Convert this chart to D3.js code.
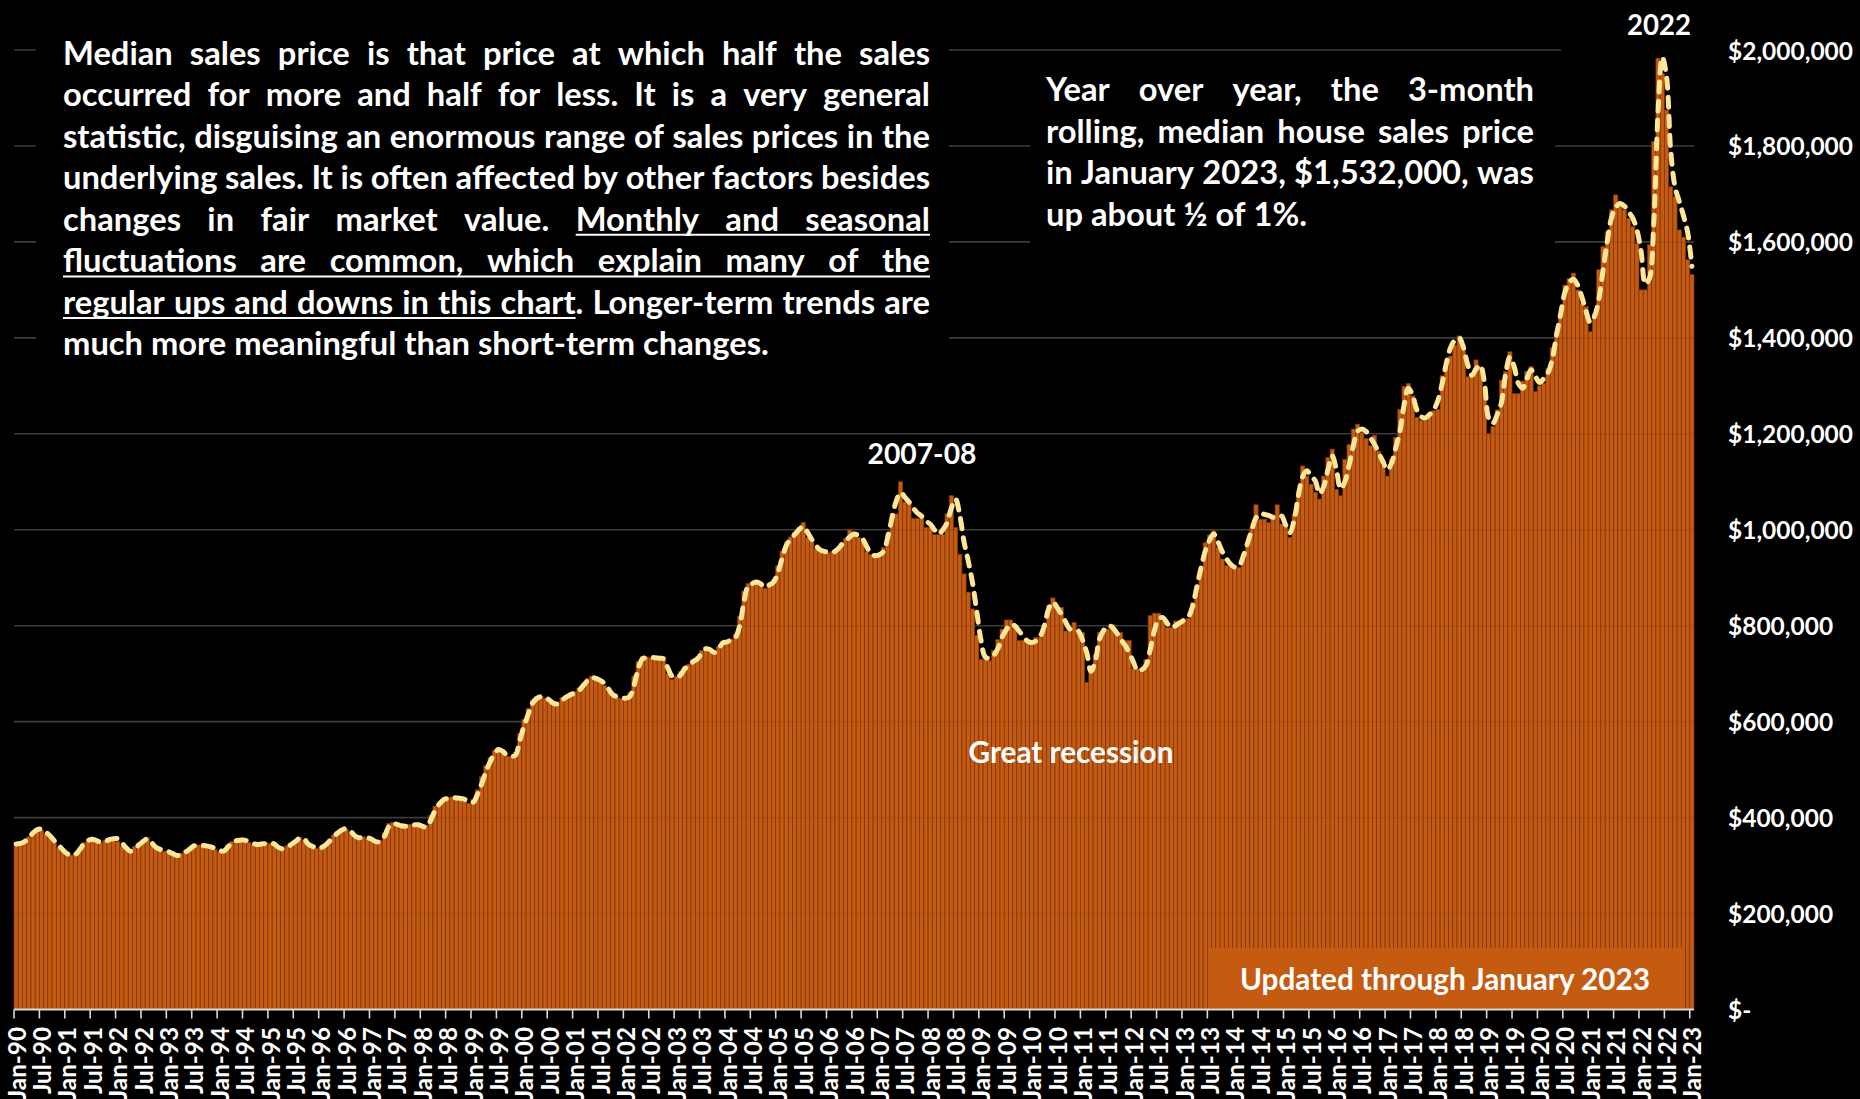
<!DOCTYPE html>
<html><head><meta charset="utf-8">
<script src="https://cdn.jsdelivr.net/npm/d3@7"></script>
<style>
html,body{margin:0;padding:0;background:#000;overflow:hidden;}
svg{display:block;}
text{font-family:Lato,"Open Sans",sans-serif;font-weight:700;fill:#fff;}
</style></head><body>
<svg id="chart" width="1860" height="1099"></svg>
<script>
// ---------------- DATA ----------------
const monthNames = ["Jan","Feb","Mar","Apr","May","Jun","Jul","Aug","Sep","Oct","Nov","Dec"];
const firstYear = 1990;
// monthly median sales price, thousands of dollars (bars), Jan-90 .. Jan-23
const barValues = [
/*1990*/ 348,345,351,360,372,377,374,366,358,348,338,328,
/*1991*/ 322,322,326,337,348,355,354,350,348,352,356,352,
/*1992*/ 350,340,333,332,340,347,354,358,342,335,333,330,
/*1993*/ 327,322,320,326,332,338,343,343,341,340,337,333,
/*1994*/ 329,333,343,350,353,354,352,348,344,343,346,348,
/*1995*/ 346,342,335,336,341,347,353,359,352,342,338,336,
/*1996*/ 339,345,354,364,371,378,375,367,358,357,360,356,
/*1997*/ 352,348,352,368,388,390,385,382,382,386,386,383,
/*1998*/ 380,384,405,424,432,440,442,443,440,439,435,430,
/*1999*/ 438,458,485,508,525,540,545,535,528,527,536,575,
/*2000*/ 605,628,645,652,653,649,640,635,640,650,655,660,
/*2001*/ 663,670,680,690,695,688,682,675,662,652,650,648,
/*2002*/ 650,660,695,725,736,735,733,734,731,728,700,688,
/*2003*/ 694,705,715,720,730,735,748,755,745,740,757,768,
/*2004*/ 768,772,782,820,872,888,890,888,884,878,888,896,
/*2005*/ 925,955,975,985,995,1005,1015,984,975,960,955,954,
/*2006*/ 952,955,962,972,982,1000,991,984,975,955,948,946,
/*2007*/ 948,963,991,1033,1033,1100,1058,1058,1024,1024,1024,1005,
/*2008*/ 1005,990,990,990,1033,1071,1005,949,908,870,835,780,
/*2009*/ 730,730,727,748,771,793,812,812,803,769,769,769,
/*2010*/ 769,776,776,800,842,858,838,838,789,789,807,786,
/*2011*/ 786,682,710,740,786,793,793,803,786,786,769,769,
/*2012*/ 710,710,710,730,821,826,826,810,796,796,810,810,
/*2013*/ 810,815,849,880,918,973,989,998,963,939,925,925,
/*2014*/ 925,921,949,973,1005,1052,1022,1022,1015,1030,1052,1012,
/*2015*/ 1005,984,1032,1081,1133,1112,1095,1078,1064,1112,1151,1168,
/*2016*/ 1084,1071,1147,1178,1210,1220,1203,1190,1175,1197,1164,1133,
/*2017*/ 1112,1147,1192,1251,1299,1305,1279,1234,1228,1228,1237,1248,
/*2018*/ 1251,1321,1340,1362,1385,1404,1385,1319,1325,1354,1340,1290,
/*2019*/ 1200,1215,1250,1312,1330,1371,1284,1284,1310,1330,1340,1288,
/*2020*/ 1300,1305,1336,1380,1413,1451,1510,1524,1535,1500,1472,1465,
/*2021*/ 1413,1451,1542,1590,1621,1667,1698,1677,1667,1649,1632,1597,
/*2022*/ 1500,1500,1594,1809,1983,1951,1875,1715,1694,1625,1610,1563,
/*2023*/ 1532
];
// 3-month rolling trend line, thousands of dollars
const lineValues = [
/*1990*/ 345,346,350,358,368,375,376,370,362,352,343,333,
/*1991*/ 325,322,323,333,345,352,355,352,349,350,354,356,
/*1992*/ 356,347,337,330,335,343,350,356,348,338,334,331,
/*1993*/ 329,325,321,323,328,334,341,342,342,341,339,336,
/*1994*/ 332,330,338,348,352,353,353,350,346,344,345,346,
/*1995*/ 347,345,338,335,338,344,350,357,356,345,340,337,
/*1996*/ 337,342,350,360,368,374,377,372,362,358,359,358,
/*1997*/ 355,350,350,360,380,388,386,383,382,384,385,385,
/*1998*/ 382,380,395,415,428,437,440,442,441,440,438,433,
/*1999*/ 432,448,470,495,516,533,542,538,530,528,530,560,
/*2000*/ 590,615,638,648,652,651,645,638,637,645,651,656,
/*2001*/ 660,665,675,685,692,690,686,680,668,656,652,650,
/*2002*/ 649,652,675,710,731,733,734,733,732,731,712,695,
/*2003*/ 692,697,710,717,725,731,742,752,750,744,752,764,
/*2004*/ 766,771,776,800,850,883,888,891,887,880,885,891,
/*2005*/ 910,940,967,980,990,1000,1007,995,980,967,958,955,
/*2006*/ 953,953,958,968,977,985,991,988,981,965,950,946,
/*2007*/ 948,955,985,1025,1060,1078,1068,1058,1045,1035,1028,1018,
/*2008*/ 1012,1000,991,1000,1015,1045,1064,1030,975,935,890,830,
/*2009*/ 770,735,732,738,752,776,792,803,800,789,778,768,
/*2010*/ 765,768,778,800,835,849,838,824,808,793,792,789,
/*2011*/ 770,744,705,725,772,790,800,797,786,772,760,744,
/*2012*/ 725,706,708,717,750,790,814,817,805,796,800,806,
/*2013*/ 812,818,840,880,920,955,978,991,975,955,940,928,
/*2014*/ 922,925,945,972,1000,1025,1034,1032,1030,1026,1027,1029,
/*2015*/ 1010,994,1020,1070,1110,1123,1112,1102,1075,1090,1125,1154,
/*2016*/ 1125,1085,1100,1135,1175,1205,1210,1205,1192,1178,1160,1142,
/*2017*/ 1125,1138,1170,1205,1260,1295,1280,1250,1236,1233,1240,1250,
/*2018*/ 1270,1305,1348,1380,1395,1400,1380,1345,1322,1335,1343,1305,
/*2019*/ 1232,1222,1240,1265,1325,1360,1340,1305,1295,1315,1333,1320,
/*2020*/ 1307,1315,1327,1355,1405,1450,1495,1515,1522,1510,1485,1455,
/*2021*/ 1432,1445,1480,1540,1600,1650,1672,1680,1675,1663,1650,1625,
/*2022*/ 1580,1512,1525,1640,1870,1985,1945,1790,1715,1685,1655,1620,
/*2023*/ 1549
];
const yTickValues = [0,200000,400000,600000,800000,1000000,1200000,1400000,1600000,1800000,2000000];
const yTickLabels = ["$-","$200,000","$400,000","$600,000","$800,000","$1,000,000","$1,200,000","$1,400,000","$1,600,000","$1,800,000","$2,000,000"];
const leftNote = [
  "Median sales price is that price at which half the sales",
  "occurred for more and half for less. It is a very general",
  "statistic, disguising an enormous range of sales prices in the",
  "underlying sales. It is often affected by other factors besides",
  "changes in fair market value. |Monthly and seasonal",
  "fluctuations are common, which explain many of the",
  "regular ups and downs in this chart|. Longer-term trends are",
  "much more meaningful than short-term changes."
];
const rightNote = [
  "Year over year, the 3-month",
  "rolling, median house sales price",
  "in January 2023, $1,532,000, was",
  "up about ½ of 1%."
];
const annotations = [
  {text:"2007-08", x:922, y:453, w:109},
  {text:"2022", x:1659, y:24, w:64},
  {text:"Great recession", x:1071, y:751, w:205}
];
const footnote = "Updated through January 2023";

// ---------------- CHART ----------------
const categories = barValues.map((v,i) => monthNames[i%12] + "-" + String((firstYear + Math.floor(i/12))%100).padStart(2,"0"));
const svg = d3.select("#chart");
svg.append("rect").attr("width",1860).attr("height",1099).attr("fill","#000");

const x = d3.scaleBand().domain(d3.range(barValues.length)).range([14,1694]).padding(0);
const y = d3.scaleLinear().domain([0,2000000]).range([1009.5,50]);
const bw = x.bandwidth();

function fitText(sel, target){
  const w = sel.node().getComputedTextLength();
  const fs = parseFloat(sel.attr("font-size"));
  sel.attr("font-size", fs*target/w);
  return fs*target/w;
}

// gridlines
svg.append("g").selectAll("line").data(yTickValues.filter(d=>d>0)).join("line")
  .attr("x1",14).attr("x2",1694).attr("y1",d=>y(d)).attr("y2",d=>y(d))
  .attr("stroke","#404040").attr("stroke-width",1.6);

// black text boxes hiding gridlines
const boxes = [[36,14,913,350],[1030,62,525,190],[1561,0,140,54]];
svg.append("g").selectAll("rect").data(boxes).join("rect")
  .attr("x",d=>d[0]).attr("y",d=>d[1]).attr("width",d=>d[2]).attr("height",d=>d[3]).attr("fill","#000");

// bars
svg.append("g").selectAll("rect").data(barValues).join("rect")
  .attr("x",(d,i)=>x(i)).attr("width",bw)
  .attr("y",d=>y(d*1000)).attr("height",d=>y(0)-y(d*1000))
  .attr("fill","#C55A11").attr("stroke","#7E360A").attr("stroke-width",0.7);

// faint gridlines through bars
svg.append("g").selectAll("line").data(yTickValues.filter(d=>d>0)).join("line")
  .attr("x1",14).attr("x2",1694).attr("y1",d=>y(d)).attr("y2",d=>y(d))
  .attr("stroke","#000").attr("stroke-opacity",0.07).attr("stroke-width",1.6);

// trend line
const line = d3.line().x((d,i)=>x(i)+bw/2).y(d=>y(d*1000)).curve(d3.curveCatmullRom.alpha(0.5));
svg.append("path").datum(lineValues).attr("d",line)
  .attr("fill","none").attr("stroke","#FFE699").attr("stroke-width",5)
  .attr("stroke-dasharray","10,9").attr("stroke-linecap","round").attr("stroke-linejoin","round");

// x axis
const xAxis = svg.append("g");
xAxis.append("line").attr("x1",14).attr("x2",1694).attr("y1",y(0)).attr("y2",y(0))
  .attr("stroke","#D9D9D9").attr("stroke-width",2);
const tickIdx = d3.range(0, barValues.length, 6);
xAxis.selectAll("line.tick").data(tickIdx).join("line").attr("class","tick")
  .attr("x1",i=>x(i)).attr("x2",i=>x(i)).attr("y1",y(0)).attr("y2",y(0)+9)
  .attr("stroke","#D9D9D9").attr("stroke-width",1.6);
const probe = svg.append("text").attr("font-size",20).text("Jul-90");
const xfs = fitText(probe, 67); probe.remove();
xAxis.selectAll("text").data(tickIdx).join("text")
  .attr("transform",i=>`translate(${x(i)+bw/2},1027) rotate(-90)`)
  .attr("text-anchor","end").attr("dominant-baseline","central")
  .attr("font-size",xfs).text(i=>categories[i]);

// y axis labels (right)
const yprobe = svg.append("text").attr("font-size",24).text("$2,000,000");
const yfs = fitText(yprobe,125); yprobe.remove();
svg.append("g").selectAll("text").data(yTickValues).join("text")
  .attr("x",1728).attr("y",d=>y(d)).attr("dominant-baseline","central")
  .attr("font-size",yfs).text((d,i)=>yTickLabels[i]);

// paragraphs
function paragraph(lines, x0, x1, yc, fs, justifyLast){
  const g = svg.append("g");
  const tmp = g.append("text").attr("font-size",fs).attr("visibility","hidden");
  const m = s => { tmp.text(s); return tmp.node().getComputedTextLength(); };
  let inU = false;
  lines.forEach((ln, li) => {
    const words = ln.split(" ").map(w => {
      const segs = []; let cur = "";
      for (const ch of w) {
        if (ch === "|") { if (cur) segs.push({t:cur,u:inU}); cur=""; inU=!inU; }
        else cur += ch;
      }
      if (cur) segs.push({t:cur,u:inU});
      return segs;
    });
    const widths = words.map(segs => m(segs.map(s=>s.t).join("")));
    const total = d3.sum(widths);
    const last = li === lines.length-1;
    const gap = (last && !justifyLast) ? m("a a")-m("aa") : (x1-x0-total)/(words.length-1);
    const base = yc[li] + 0.35*fs;
    let cx = x0; let uStart = null, uEnd = null;
    const ul = [];
    words.forEach((segs, wi) => {
      g.append("text").attr("x",cx).attr("y",base).attr("font-size",fs).text(segs.map(s=>s.t).join(""));
      let sx = cx;
      segs.forEach(s => {
        const sw = m(s.t);
        if (s.u) { if (uStart===null) uStart = sx; uEnd = sx+sw; }
        else if (uStart!==null) { ul.push([uStart,uEnd]); uStart=null; }
        sx += sw;
      });
      cx += widths[wi] + gap;
    });
    if (uStart!==null) ul.push([uStart,uEnd]);
    ul.forEach(u => g.append("line").attr("x1",u[0]).attr("x2",u[1])
      .attr("y1",base+4).attr("y2",base+4).attr("stroke","#fff").attr("stroke-width",2));
  });
  tmp.remove();
}
const pprobe = svg.append("text").attr("font-size",30).text(leftNote[leftNote.length-1]);
const pfs = fitText(pprobe,706); pprobe.remove();
paragraph(leftNote, 63, 930, [53.4,94.9,136.4,177.9,219.4,261,302.5,344], pfs, false);
paragraph(rightNote, 1046, 1534, [90,132,173,215], pfs, false);

// annotations
annotations.forEach(a => {
  const t = svg.append("text").attr("x",a.x).attr("y",a.y).attr("text-anchor","middle")
    .attr("dominant-baseline","central").attr("font-size",28).text(a.text);
  fitText(t,a.w);
});

// footnote box
svg.append("rect").attr("x",1208).attr("y",948).attr("width",474).attr("height",60).attr("fill","#C55A11");
const ft = svg.append("text").attr("x",1445).attr("y",978).attr("text-anchor","middle")
  .attr("dominant-baseline","central").attr("font-size",28).text(footnote);
fitText(ft,410);
</script>
</body></html>
